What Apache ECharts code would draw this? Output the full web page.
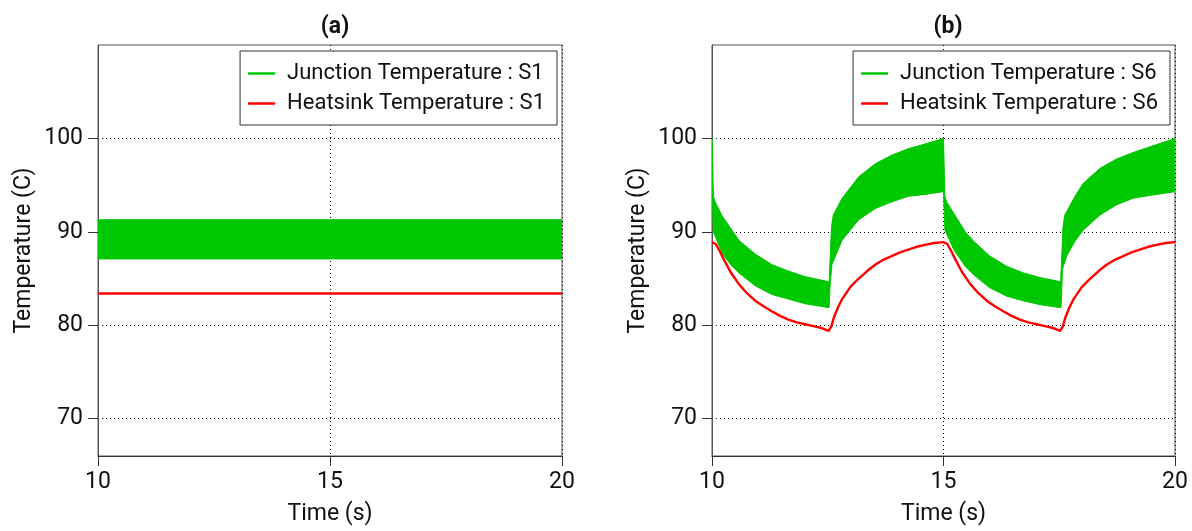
<!DOCTYPE html>
<html>
<head>
<meta charset="utf-8">
<script src="https://cdn.jsdelivr.net/npm/echarts@6/dist/echarts.min.js"></script>
<style>html,body{margin:0;padding:0;background:#fff}#c{width:1192px;height:531px}</style>
</head>
<body>
<div id="c"></div>
<script>
// ---- data ----
const PANEL_TITLES = ['(a)', '(b)'];
const X_TICKS = [10, 15, 20];
const Y_TICKS = [70, 80, 90, 100];
const X_NAME = 'Time (s)';
const Y_NAME = 'Temperature (C)';

// Panel (a): S1
const S1_JUNCTION_UPPER = [[10, 91.3], [12.5, 91.3], [15, 91.3], [17.5, 91.3], [20, 91.3]];
const S1_JUNCTION_LOWER = [[10, 87.1], [12.5, 87.1], [15, 87.1], [17.5, 87.1], [20, 87.1]];
const S1_HEATSINK = [[10, 83.4], [12.5, 83.4], [15, 83.4], [17.5, 83.4], [20, 83.4]];

// Panel (b): S6
const S6_JUNCTION_UPPER = [
  [10.00, 100], [10.03, 93.8], [10.07, 93.2], [10.22, 91.7], [10.40, 90.4], [10.58, 89.1],
  [10.94, 87.6], [11.29, 86.5], [11.65, 85.8], [12.01, 85.2], [12.48, 84.7], [12.53, 84.6],
  [12.58, 90.5], [12.62, 91.8], [12.81, 93.6], [13.17, 95.9], [13.53, 97.3], [13.88, 98.2],
  [14.24, 98.9], [14.60, 99.4], [15.00, 100], [15.03, 93.8], [15.07, 93.2], [15.22, 92.0],
  [15.47, 90.0], [15.65, 89.0], [16.00, 87.4], [16.37, 86.3], [16.73, 85.6], [17.09, 85.1],
  [17.48, 84.7], [17.53, 84.6], [17.58, 90.5], [17.62, 91.8], [17.84, 93.8], [18.02, 95.2],
  [18.38, 96.8], [18.74, 97.8], [19.10, 98.5], [19.46, 99.1], [20.00, 100]
];
const S6_JUNCTION_LOWER = [
  [10.00, 94.3], [10.03, 90.0], [10.22, 87.7], [10.40, 86.5], [10.58, 85.6], [10.94, 84.2],
  [11.29, 83.3], [11.65, 82.8], [12.01, 82.3], [12.50, 81.9], [12.53, 81.9], [12.55, 84.2],
  [12.59, 86.5], [12.81, 89.1], [13.17, 91.3], [13.53, 92.5], [13.88, 93.2], [14.24, 93.8],
  [14.60, 94.0], [15.00, 94.3], [15.03, 90.2], [15.22, 88.1], [15.47, 86.3], [15.65, 85.4],
  [16.00, 84.0], [16.37, 83.1], [16.73, 82.6], [17.09, 82.2], [17.50, 81.9], [17.54, 81.9],
  [17.57, 86.0], [17.66, 87.4], [17.84, 89.0], [18.02, 90.2], [18.38, 91.8], [18.74, 92.9],
  [19.10, 93.6], [19.46, 93.9], [20.00, 94.3]
];
const S6_HEATSINK = [
  [10.00, 88.9], [10.08, 88.7], [10.16, 88.0], [10.25, 87.1], [10.40, 85.7], [10.58, 84.4],
  [10.76, 83.4], [10.94, 82.6], [11.12, 82.0], [11.29, 81.5], [11.47, 81.0], [11.65, 80.6],
  [11.83, 80.3], [12.01, 80.1], [12.19, 79.9], [12.37, 79.7], [12.52, 79.4], [12.58, 79.9],
  [12.63, 80.8], [12.72, 81.9], [12.81, 82.8], [12.99, 84.1], [13.17, 85.0], [13.35, 85.8],
  [13.53, 86.5], [13.70, 87.0], [13.88, 87.4], [14.06, 87.8], [14.24, 88.1], [14.42, 88.4],
  [14.60, 88.6], [14.80, 88.8], [15.00, 88.9],
  [15.08, 88.7], [15.16, 88.0], [15.25, 87.1], [15.40, 85.7], [15.58, 84.4], [15.76, 83.4],
  [15.94, 82.6], [16.12, 82.0], [16.29, 81.5], [16.47, 81.0], [16.65, 80.6], [16.83, 80.3],
  [17.01, 80.1], [17.19, 79.9], [17.37, 79.7], [17.52, 79.4], [17.58, 79.9], [17.63, 80.8],
  [17.72, 81.9], [17.81, 82.8], [17.99, 84.1], [18.17, 85.0], [18.35, 85.8], [18.53, 86.5],
  [18.70, 87.0], [18.88, 87.4], [19.06, 87.8], [19.24, 88.1], [19.42, 88.4], [19.60, 88.6],
  [19.80, 88.8], [20.00, 88.9]
];

const SERIES_NAMES = [
  ['Junction Temperature : S1', 'Heatsink Temperature : S1'],
  ['Junction Temperature : S6', 'Heatsink Temperature : S6']
];

// ---- styling ----
const GREEN = '#00c800';
const RED = '#ff0000';
const FONT = 'Roboto';
const TXT = '#111';

const chart = echarts.init(document.getElementById('c'), null, { renderer: 'canvas' });

function bandSeries(name, idx, upper, lower) {
  return {
    type: 'custom',
    name: name,
    xAxisIndex: idx, yAxisIndex: idx,
    clip: true,
    itemStyle: { color: GREEN },
    data: upper,
    encode: { x: 0, y: 1 },
    z: 3,
    renderItem: function (params, api) {
      if (params.dataIndex !== 0) return null;
      const pts = [];
      upper.forEach(p => pts.push(api.coord(p)));
      for (let i = lower.length - 1; i >= 0; i--) pts.push(api.coord(lower[i]));
      return { type: 'polygon', shape: { points: pts }, style: { fill: GREEN, stroke: GREEN, lineWidth: 1 } };
    }
  };
}

function lineSeries(name, idx, data) {
  return {
    type: 'line', name: name, xAxisIndex: idx, yAxisIndex: idx,
    data: data, symbol: 'none', showSymbol: false, smooth: false,
    lineStyle: { color: RED, width: 2.4, join: 'round' }, itemStyle: { color: RED }, z: 4
  };
}

const grids = [
  { left: 98, right: 630, top: 45, bottom: 74 },
  { left: 712, right: 17, top: 45, bottom: 74 }
].map(g => Object.assign(g, { show: true, borderColor: '#555', borderWidth: 1, backgroundColor: 'transparent' }));

const xAxes = [0, 1].map(i => ({
  type: 'value', gridIndex: i, min: 10, max: 20, interval: 5,
  name: X_NAME, nameLocation: 'middle', nameGap: 47,
  nameTextStyle: { fontFamily: FONT, fontSize: 23, color: TXT },
  axisLine: { show: true, onZero: false, lineStyle: { color: '#333', width: 1.2 } },
  axisTick: { show: true, length: 10, lineStyle: { color: '#333' } },
  axisLabel: { fontFamily: FONT, fontSize: 23, color: TXT, margin: 15,
    formatter: v => (X_TICKS.indexOf(v) >= 0 ? String(v) : '') },
  splitLine: { show: true, lineStyle: { color: '#000', type: [1, 3], width: 1 } }
}));

const yAxes = [0, 1].map(i => ({
  type: 'value', gridIndex: i, min: 66, max: 110,
  name: Y_NAME, nameLocation: 'middle', nameGap: 62, nameRotate: 90,
  nameTextStyle: { fontFamily: FONT, fontSize: 23, color: TXT },
  axisLine: { show: true, lineStyle: { color: '#555', width: 1 } },
  axisTick: { show: true, length: 10, customValues: Y_TICKS, lineStyle: { color: '#333' } },
  axisLabel: { fontFamily: FONT, fontSize: 23, color: TXT, margin: 15, customValues: Y_TICKS },
  splitLine: { show: true, lineStyle: { color: '#000', type: [1, 3], width: 1 } }
}));

const legends = [635, 22].map((r, i) => ({
  orient: 'vertical', right: r, top: 51,
  data: SERIES_NAMES[i].map(n => ({ name: n, icon: 'rect' })),
  itemWidth: 27, itemHeight: 2.5, itemGap: 5,
  padding: [10, 12, 9, 8],
  borderColor: '#333', borderWidth: 1, backgroundColor: '#fff',
  textStyle: { fontFamily: FONT, fontSize: 22, color: TXT, padding: [0, 0, 0, 7], lineHeight: 25 },
  selectedMode: false
}));

chart.setOption({
  animation: false,
  backgroundColor: '#fff',
  title: PANEL_TITLES.map((t, i) => ({
    text: t, left: i === 0 ? 330 : 943, top: 11, textAlign: 'center',
    textStyle: { fontFamily: FONT, fontSize: 23, fontWeight: 'bold', color: TXT }
  })),
  legend: legends,
  grid: grids,
  xAxis: xAxes,
  yAxis: yAxes,
  series: [
    bandSeries(SERIES_NAMES[0][0], 0, S1_JUNCTION_UPPER, S1_JUNCTION_LOWER),
    lineSeries(SERIES_NAMES[0][1], 0, S1_HEATSINK),
    bandSeries(SERIES_NAMES[1][0], 1, S6_JUNCTION_UPPER, S6_JUNCTION_LOWER),
    lineSeries(SERIES_NAMES[1][1], 1, S6_HEATSINK)
  ]
});
</script>
</body>
</html>
